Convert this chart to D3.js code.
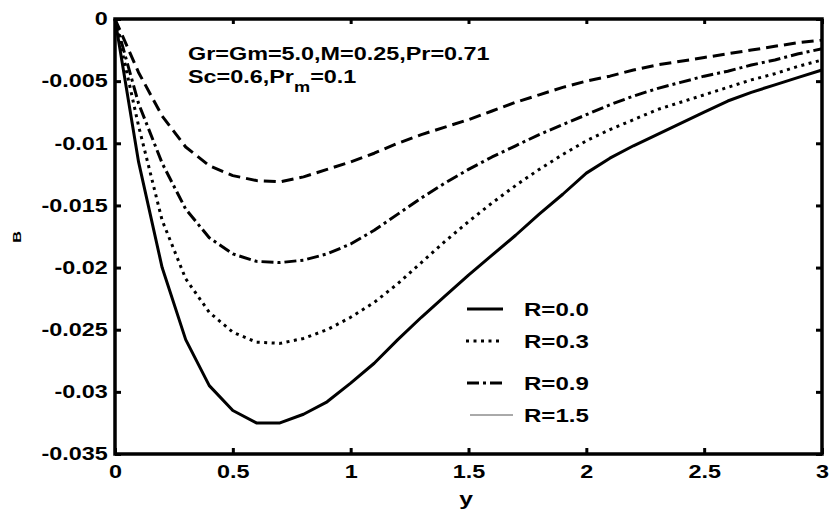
<!DOCTYPE html>
<html lang="en">
<head>
<meta charset="UTF-8">
<script src="https://d3js.org/d3.v7.min.js"></script>
<title>B vs y</title>
<style>
  body { margin: 0; background: #fff; }
  svg text { font-family: "Liberation Sans", Arial, sans-serif; font-weight: bold; fill: #000; }
  .curve { fill: none; stroke: #000; stroke-width: 3px; stroke-linejoin: round; }
</style>
</head>
<body>
<div class="graph"></div>
<script>
// data
var yVals = [0, 0.1, 0.2, 0.3, 0.4, 0.5, 0.6, 0.7, 0.8, 0.9, 1.0,
             1.1, 1.2, 1.3, 1.4, 1.5, 1.6, 1.7, 1.8, 1.9, 2.0,
             2.1, 2.2, 2.3, 2.4, 2.5, 2.6, 2.7, 2.8, 2.9, 3.0];
var bR00 = [0, -0.0115, -0.0200, -0.0258, -0.0295, -0.0315, -0.0325, -0.0325, -0.0318, -0.0308, -0.0293,
            -0.0277, -0.0258, -0.0240, -0.0223, -0.0206, -0.0190, -0.0174, -0.0157, -0.0141, -0.0124,
            -0.0112, -0.0102, -0.0093, -0.0084, -0.0075, -0.0066, -0.0059, -0.0053, -0.0047, -0.0041];
var bR03 = [0, -0.0086, -0.0162, -0.0209, -0.0236, -0.0252, -0.0260, -0.0261, -0.0257, -0.0250, -0.0240,
            -0.0228, -0.0213, -0.0196, -0.0179, -0.0163, -0.0148, -0.0134, -0.0121, -0.0109, -0.0098,
            -0.0089, -0.0081, -0.0073, -0.0067, -0.0061, -0.0055, -0.0049, -0.0044, -0.0038, -0.0033];
var bR09 = [0, -0.0068, -0.0116, -0.0153, -0.0176, -0.0189, -0.0195, -0.0196, -0.0194, -0.0189, -0.0181,
            -0.0170, -0.0157, -0.0144, -0.0132, -0.0121, -0.0111, -0.0102, -0.0093, -0.0085, -0.0077,
            -0.0069, -0.0062, -0.0056, -0.0051, -0.0046, -0.0042, -0.0037, -0.0033, -0.0028, -0.0024];
var bR15 = [0, -0.0043, -0.0078, -0.0103, -0.0118, -0.0126, -0.0130, -0.0131, -0.0127, -0.0121, -0.0115,
            -0.0108, -0.0100, -0.0093, -0.0087, -0.0081, -0.0074, -0.0067, -0.0061, -0.0055, -0.0050,
            -0.0046, -0.0041, -0.0037, -0.0034, -0.0031, -0.0028, -0.0025, -0.0022, -0.0019, -0.0017];
var legendLabels = ["R=0.0", "R=0.3", "R=0.9", "R=1.5"];
var xTicks = [0, 0.5, 1, 1.5, 2, 2.5, 3];
var yTicks = [0, -0.005, -0.01, -0.015, -0.02, -0.025, -0.03, -0.035];

var W = 832, H = 512;
var margin = { top: 19, right: 10, bottom: 58, left: 115 };
var SX = 1.3; // the original text is stretched sideways

var x = d3.scaleLinear().domain([0, 3]).range([margin.left, W - margin.right]);
var y = d3.scaleLinear().domain([-0.035, 0]).range([H - margin.bottom, margin.top]);

var svg = d3.select(".graph").append("svg")
    .attr("width", W)
    .attr("height", H);

function label(g, px, py, str, size, anchor) {
    return g.append("text")
        .attr("transform", "translate(" + px + "," + py + ") scale(" + SX + ",1)")
        .attr("text-anchor", anchor || "start")
        .style("font-size", size + "px")
        .text(str);
}

// curves
var dotted = "3,4.5", dashDot = "12,4,3,4";
var series = [
    { vals: bR00, dash: null },
    { vals: bR03, dash: dotted },
    { vals: bR09, dash: dashDot },
    { vals: bR15, dash: "12,6" }
];
var line = d3.line()
    .x(function (d, i) { return x(yVals[i]); })
    .y(function (d) { return y(d); });

svg.append("g").selectAll("path")
    .data(series)
    .enter().append("path")
    .attr("class", "curve")
    .attr("d", function (s) { return line(s.vals); })
    .attr("stroke-dasharray", function (s) { return s.dash; });

// axes, ticks inside like matlab
function styleAxis(g) {
    g.select(".domain").remove();
    g.selectAll(".tick line").attr("stroke", "#000").attr("stroke-width", 3);
}
var yFmt = function (d) { return d === 0 ? "0" : String(+d.toFixed(3)); };

var gx = svg.append("g")
    .attr("transform", "translate(0," + y(-0.035) + ")")
    .call(d3.axisBottom(x).tickValues(xTicks).tickSizeInner(-6).tickSizeOuter(0)
        .tickPadding(11).tickFormat(function (d) { return String(d); }));
styleAxis(gx);
gx.selectAll(".tick text").attr("transform", "scale(" + SX + ",1)")
    .style("font-size", "18px").attr("fill", "#000");

var gy = svg.append("g")
    .attr("transform", "translate(" + x(0) + ",0)")
    .call(d3.axisLeft(y).tickValues(yTicks).tickSizeInner(-6).tickSizeOuter(0)
        .tickPadding(5.5).tickFormat(yFmt));
styleAxis(gy);
gy.selectAll(".tick text").attr("transform", "scale(" + SX + ",1)")
    .style("font-size", "18px").attr("fill", "#000");

var gt = svg.append("g")
    .attr("transform", "translate(0," + y(0) + ")")
    .call(d3.axisTop(x).tickValues(xTicks).tickSizeInner(-5).tickSizeOuter(0).tickFormat(""));
styleAxis(gt);

var gr = svg.append("g")
    .attr("transform", "translate(" + x(3) + ",0)")
    .call(d3.axisRight(y).tickValues(yTicks).tickSizeInner(-6).tickSizeOuter(0).tickFormat(""));
styleAxis(gr);

svg.append("rect")
    .attr("x", x(0)).attr("y", y(0))
    .attr("width", x(3) - x(0)).attr("height", y(-0.035) - y(0))
    .attr("fill", "none").attr("stroke", "#000").attr("stroke-width", 3.5);

// axis titles
label(svg, 466, 505, "y", 19, "middle");
svg.append("text")
    .attr("transform", "translate(21,237) rotate(-90) scale(1.15,0.8)")
    .attr("text-anchor", "middle")
    .style("font-size", "14px")
    .text("B");

// parameters
label(svg, 188, 60, "Gr=Gm=5.0,M=0.25,Pr=0.71", 18);
var t2 = label(svg, 188, 82.5, "", 18);
t2.append("tspan").text("Sc=0.6,Pr");
t2.append("tspan").attr("dy", 9.5).style("font-size", "14px").text("m");
t2.append("tspan").attr("dy", -9.5).text("=0.1");

// legend (last entry is drawn as a thin line in the original)
var legY = [309, 341, 383, 415];
var legStyle = [
    { dash: null, w: 3, c: "#000", x0: 467, x1: 503 },
    { dash: dotted, w: 3, c: "#000", x0: 466, x1: 503 },
    { dash: dashDot, w: 3, c: "#000", x0: 467, x1: 505 },
    { dash: null, w: 1, c: "#555", x0: 470, x1: 513 }
];
var leg = svg.append("g");
legendLabels.forEach(function (lab, i) {
    var st = legStyle[i];
    leg.append("line")
        .attr("x1", st.x0).attr("x2", st.x1)
        .attr("y1", legY[i]).attr("y2", legY[i])
        .attr("stroke", st.c).attr("stroke-width", st.w)
        .attr("stroke-dasharray", st.dash);
    label(leg, 524, legY[i], lab, 18.5).attr("dy", "0.36em");
});
</script>
</body>
</html>
